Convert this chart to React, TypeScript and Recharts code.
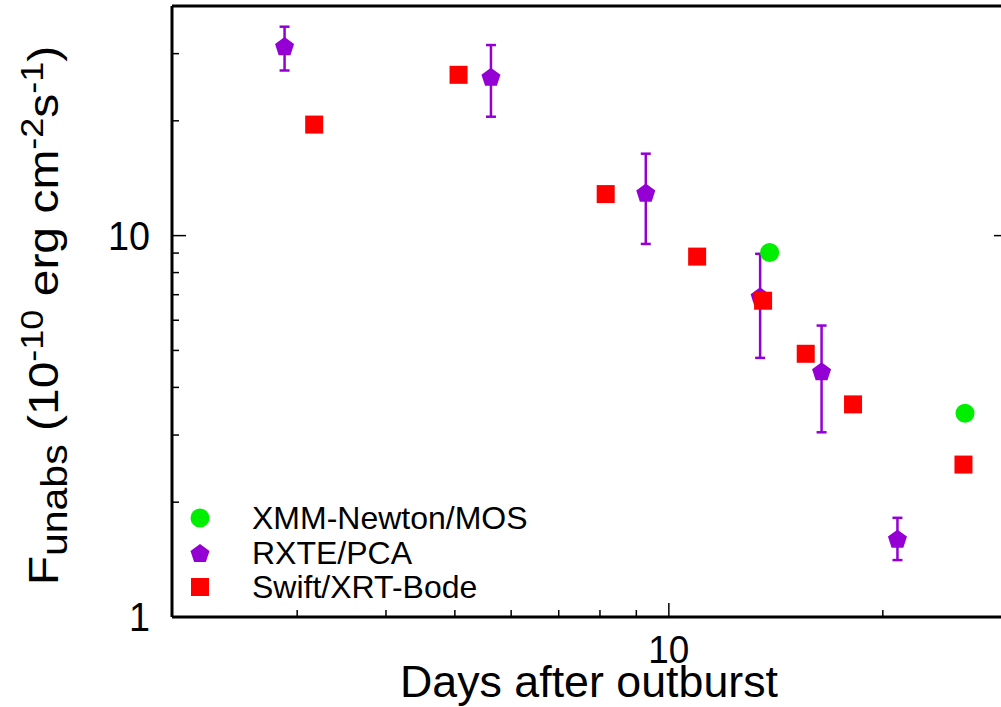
import React from 'react';
import { ScatterChart, Scatter, XAxis, YAxis, ErrorBar, Legend } from 'recharts';

const FONT = '"Liberation Sans", Arial, Helvetica, sans-serif';

// XMM-Newton/MOS
const xmmDays = [13.86, 26.1];
const xmmFlux = [9.03, 3.42];

// RXTE/PCA, with lower / upper bounds of the error bars
const rxteDays = [2.88, 5.62, 9.28, 13.44, 16.4, 20.97];
const rxteFlux = [31.4, 26.1, 12.97, 6.93, 4.41, 1.605];
const rxteLow = [27.1, 20.5, 9.51, 4.78, 3.05, 1.41];
const rxteHigh = [35.3, 31.6, 16.4, 8.96, 5.81, 1.82];

// Swift/XRT-Bode
const swiftDays = [3.17, 5.06, 8.15, 10.96, 13.57, 15.58, 18.16, 25.97];
const swiftFlux = [19.55, 26.4, 12.85, 8.81, 6.75, 4.9, 3.61, 2.51];

// axis ticks (log axes); labelled majors
const xTicks = [3, 4, 5, 6, 7, 8, 9, 10, 20];
const xMajor = [10];
const yTicks = [1, 2, 3, 4, 5, 6, 7, 8, 9, 10, 20, 30];
const yMajor = [1, 10];

const COLORS = { xmm: '#00ee00', rxte: '#9400d3', swift: '#ff0000' };

const xmmData = xmmDays.map((x, i) => ({ x, y: xmmFlux[i] }));
const rxteData = rxteDays.map((x, i) => ({
  x,
  y: rxteFlux[i],
  err: [rxteFlux[i] - rxteLow[i], rxteHigh[i] - rxteFlux[i]],
}));
const swiftData = swiftDays.map((x, i) => ({ x, y: swiftFlux[i] }));

const legendItems = [
  { name: 'XMM-Newton/MOS', kind: 'circle', color: COLORS.xmm },
  { name: 'RXTE/PCA', kind: 'pentagon', color: COLORS.rxte },
  { name: 'Swift/XRT-Bode', kind: 'square', color: COLORS.swift },
];

const pentagonPoints = (cx: number, cy: number, r: number) => {
  const pts: string[] = [];
  for (let k = 0; k < 5; k++) {
    const a = -Math.PI / 2 + (k * 2 * Math.PI) / 5;
    pts.push(`${cx + r * Math.cos(a)},${cy + r * Math.sin(a)}`);
  }
  return pts.join(' ');
};

const Marker = ({ kind, cx, cy, color }: any) => {
  if (kind === 'circle') return <circle cx={cx} cy={cy} r={9.5} fill={color} />;
  if (kind === 'pentagon') return <polygon points={pentagonPoints(cx, cy + 1, 10)} fill={color} />;
  return <rect x={cx - 9} y={cy - 9} width={18} height={18} fill={color} />;
};

const CircleShape = (p: any) => <Marker kind="circle" cx={p.cx} cy={p.cy} color={COLORS.xmm} />;
const PentagonShape = (p: any) => <Marker kind="pentagon" cx={p.cx} cy={p.cy} color={COLORS.rxte} />;
const SquareShape = (p: any) => <Marker kind="square" cx={p.cx} cy={p.cy} color={COLORS.swift} />;

const MAJOR_LEN = 14;
const MINOR_LEN = 7;

const BottomTick = (props: any) => {
  const { x, y, payload } = props;
  const major = xMajor.includes(payload.value);
  return (
    <g>
      <line x1={x} y1={y} x2={x} y2={y - (major ? MAJOR_LEN : MINOR_LEN)} stroke="#000" strokeWidth={1.5} />
      {major && (
        <text
          x={x}
          y={y + 46}
          textAnchor="middle"
          fontSize={38}
          textLength={41}
          lengthAdjust="spacingAndGlyphs"
          fontFamily={FONT}
          fill="#000"
        >
          {payload.value}
        </text>
      )}
    </g>
  );
};

const TopTick = (props: any) => {
  const { x, y, payload } = props;
  const major = xMajor.includes(payload.value);
  return <line x1={x} y1={y} x2={x} y2={y + (major ? MAJOR_LEN : MINOR_LEN)} stroke="#000" strokeWidth={1.5} />;
};

const LeftTick = (props: any) => {
  const { x, y, payload } = props;
  const major = yMajor.includes(payload.value);
  const label = String(payload.value);
  return (
    <g>
      <line x1={x} y1={y} x2={x + (major ? MAJOR_LEN : MINOR_LEN)} y2={y} stroke="#000" strokeWidth={1.5} />
      {major && (
        <text
          x={x - 22}
          y={y + 14}
          textAnchor="end"
          fontSize={41}
          textLength={label.length * 21}
          lengthAdjust="spacingAndGlyphs"
          fontFamily={FONT}
          fill="#000"
        >
          {label}
        </text>
      )}
    </g>
  );
};

const RightTick = (props: any) => {
  const { x, y, payload } = props;
  const major = yMajor.includes(payload.value);
  return <line x1={x} y1={y} x2={x - (major ? MAJOR_LEN : MINOR_LEN)} y2={y} stroke="#000" strokeWidth={1.5} />;
};

const XTitle = (props: any) => {
  const vb = props.viewBox || { x: 0, y: 0, width: 0, height: 0 };
  return (
    <text
      x={vb.x + vb.width / 2 - 1}
      y={vb.y + 80}
      textAnchor="middle"
      fontSize={44}
      textLength={378}
      lengthAdjust="spacingAndGlyphs"
      fontFamily={FONT}
      fill="#000"
    >
      Days after outburst
    </text>
  );
};

const YTitle = (props: any) => {
  const vb = props.viewBox || { x: 0, y: 0, width: 0, height: 0 };
  const cx = vb.x - 54;
  const cy = vb.y + vb.height / 2 + 4;
  return (
    <g transform={`translate(${cx} ${cy}) scale(0.88 1) rotate(-90)`}>
      <text x={0} y={0} textAnchor="middle" fontSize={48} fontFamily={FONT} fill="#000">
        <tspan>F</tspan>
        <tspan fontSize={41} dy={10}>unabs</tspan>
        <tspan dy={-10}> (10</tspan>
        <tspan fontSize={36} dy={-17}>-10</tspan>
        <tspan dy={17}> erg cm</tspan>
        <tspan fontSize={36} dy={-17}>-2</tspan>
        <tspan dy={17}>s</tspan>
        <tspan fontSize={36} dy={-17}>-1</tspan>
        <tspan dy={17}>)</tspan>
      </text>
    </g>
  );
};

const LegendBox = () => (
  <div style={{ fontFamily: FONT, fontSize: 32, color: '#000' }}>
    {legendItems.map((it) => (
      <div key={it.name} style={{ display: 'flex', alignItems: 'center', height: 34.5 }}>
        <svg width={30} height={30} style={{ display: 'block' }}>
          <Marker kind={it.kind} cx={15} cy={15} color={it.color} />
        </svg>
        <span style={{ marginLeft: 37, lineHeight: '34px', whiteSpace: 'nowrap' }}>{it.name}</span>
      </div>
    ))}
  </div>
);

const axisLine = { stroke: '#000', strokeWidth: 3 };

export default function App() {
  return (
    <div
      style={{
        position: 'absolute',
        left: 0,
        top: 0,
        width: 1001,
        height: 707,
        overflow: 'hidden',
        background: '#fff',
      }}
    >
      <ScatterChart width={1030} height={707} margin={{ top: 5, right: 21, bottom: 0, left: 112 }}>
        <XAxis
          xAxisId="b"
          dataKey="x"
          type="number"
          scale="log"
          domain={[2, 30]}
          allowDataOverflow
          ticks={xTicks}
          interval={0}
          tickSize={0}
          tickMargin={0}
          tickLine={false}
          height={90}
          tick={<BottomTick />}
          axisLine={axisLine}
          label={XTitle}
        />
        <XAxis
          xAxisId="t"
          orientation="top"
          type="number"
          scale="log"
          domain={[2, 30]}
          allowDataOverflow
          ticks={xTicks}
          interval={0}
          tickSize={0}
          tickMargin={0}
          tickLine={false}
          height={1}
          tick={<TopTick />}
          axisLine={axisLine}
        />
        <YAxis
          yAxisId="l"
          dataKey="y"
          type="number"
          scale="log"
          domain={[1, 40]}
          allowDataOverflow
          ticks={yTicks}
          interval={0}
          tickSize={0}
          tickMargin={0}
          tickLine={false}
          width={60}
          tick={<LeftTick />}
          axisLine={axisLine}
          label={YTitle}
        />
        <YAxis
          yAxisId="r"
          orientation="right"
          type="number"
          scale="log"
          domain={[1, 40]}
          allowDataOverflow
          ticks={yTicks}
          interval={0}
          tickSize={0}
          tickMargin={0}
          tickLine={false}
          width={1}
          tick={<RightTick />}
          axisLine={axisLine}
        />
        <Scatter
          name="RXTE/PCA"
          data={rxteData}
          xAxisId="b"
          yAxisId="l"
          shape={PentagonShape}
          fill={COLORS.rxte}
          isAnimationActive={false}
        >
          <ErrorBar dataKey="err" direction="y" width={5} stroke={COLORS.rxte} strokeWidth={2.5} />
        </Scatter>
        <Scatter
          name="Swift/XRT-Bode"
          data={swiftData}
          xAxisId="b"
          yAxisId="l"
          shape={SquareShape}
          fill={COLORS.swift}
          isAnimationActive={false}
        />
        <Scatter
          name="XMM-Newton/MOS"
          data={xmmData}
          xAxisId="b"
          yAxisId="l"
          shape={CircleShape}
          fill={COLORS.xmm}
          isAnimationActive={false}
        />
        <Legend
          layout="vertical"
          align="center"
          verticalAlign="middle"
          content={<LegendBox />}
          wrapperStyle={{ position: 'absolute', left: 185, top: 501, width: 380, height: 104 }}
        />
      </ScatterChart>
    </div>
  );
}
